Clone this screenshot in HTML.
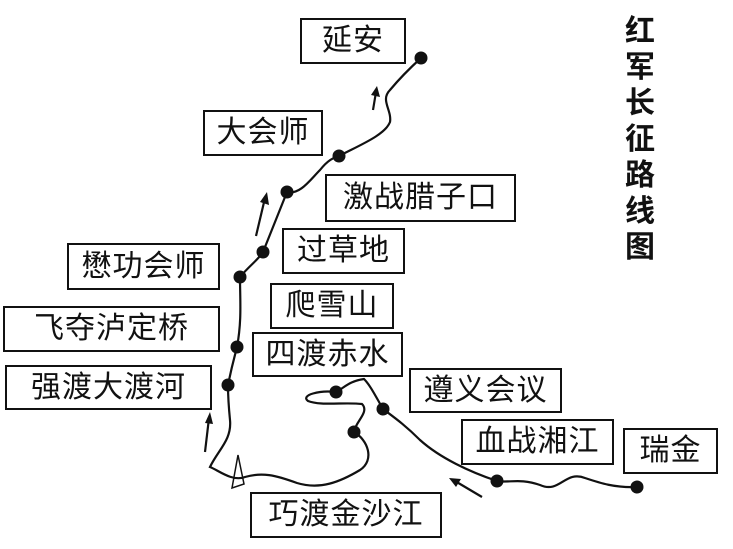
<!DOCTYPE html><html><head><style>
body{margin:0;background:#fff;}
.b{position:absolute;border:2px solid #111;box-sizing:border-box;font-family:"Liberation Sans","Noto Sans CJK SC",sans-serif;font-size:30px;line-height:1;display:flex;align-items:center;justify-content:center;color:#111;background:#fff;letter-spacing:1px}
.t{position:absolute;left:622px;top:10px;width:36px;font-family:"Noto Sans CJK SC",sans-serif;font-size:30px;font-weight:bold;line-height:36px;text-align:center;color:#111}
</style></head><body>
<div style="position:relative;width:733px;height:549px;overflow:hidden">
<svg width="733" height="549" style="position:absolute;left:0;top:0" fill="none" stroke="#111" stroke-width="2.2">
<path d="M637,487 C615,488 600,483 585,478 C565,470 560,494 540,485 C520,478 510,483 497,481 C470,472 440,458 420,440 C405,425 395,418 383,409 C375,395 370,385 364,379 C350,381 345,387 336,392 C320,390 300,395 308,401 C320,406 345,402 362,404 C370,412 355,422 354,432 C368,440 375,460 360,470 C340,482 320,490 297,483 C275,475 262,472 245,477 C232,482 218,470 210,467 C218,450 232,440 230,420 C228,400 228,392 228,385 C232,365 235,355 237,347 C242,320 240,300 240,277 C250,265 258,260 263,252 C272,230 280,210 287,192 C300,195 310,180 320,170 C328,160 333,158 339,156 C360,145 385,135 390,122 C392,110 380,100 390,90 C400,78 410,68 421,58"/>
<path d="M238,455 L244,484 L232,488 Z" stroke-width="1.5"/>
<path d="M373,110 L376,92" /><path d="M256,236 L265,198"/><path d="M205,452 L209,418"/><path d="M482,497 L455,481"/>
<g fill="#111" stroke="none">
<path d="M377,86 L380,97 L371,95Z"/><path d="M267,192 L269,205 L260,202Z"/><path d="M210,412 L213,424 L205,423Z"/><path d="M449,478 L461,479 L456,487Z"/>
<circle cx="421" cy="58" r="6.5"/><circle cx="339" cy="156" r="6.5"/><circle cx="287" cy="192" r="6.5"/><circle cx="263" cy="252" r="6.5"/><circle cx="240" cy="277" r="6.5"/><circle cx="237" cy="347" r="6.5"/><circle cx="228" cy="385" r="6.5"/><circle cx="336" cy="392" r="6.5"/><circle cx="383" cy="409" r="6.5"/><circle cx="354" cy="432" r="6.5"/><circle cx="497" cy="481" r="6.5"/><circle cx="637" cy="487" r="6.5"/>
</g></svg>
<div class="b" style="left:300px;top:18px;width:106px;height:46px">延安</div>
<div class="b" style="left:203px;top:110px;width:120px;height:46px">大会师</div>
<div class="b" style="left:325px;top:174px;width:191px;height:48px">激战腊子口</div>
<div class="b" style="left:67px;top:243px;width:153px;height:47px">懋功会师</div>
<div class="b" style="left:282px;top:228px;width:123px;height:46px">过草地</div>
<div class="b" style="left:270px;top:283px;width:124px;height:46px">爬雪山</div>
<div class="b" style="left:3px;top:306px;width:217px;height:46px">飞夺泸定桥</div>
<div class="b" style="left:252px;top:332px;width:151px;height:45px">四渡赤水</div>
<div class="b" style="left:5px;top:365px;width:207px;height:45px">强渡大渡河</div>
<div class="b" style="left:409px;top:368px;width:153px;height:45px">遵义会议</div>
<div class="b" style="left:461px;top:419px;width:153px;height:46px">血战湘江</div>
<div class="b" style="left:623px;top:428px;width:95px;height:46px">瑞金</div>
<div class="b" style="left:250px;top:492px;width:192px;height:46px">巧渡金沙江</div>
<div class="t">红<br>军<br>长<br>征<br>路<br>线<br>图</div>
</div></body></html>
